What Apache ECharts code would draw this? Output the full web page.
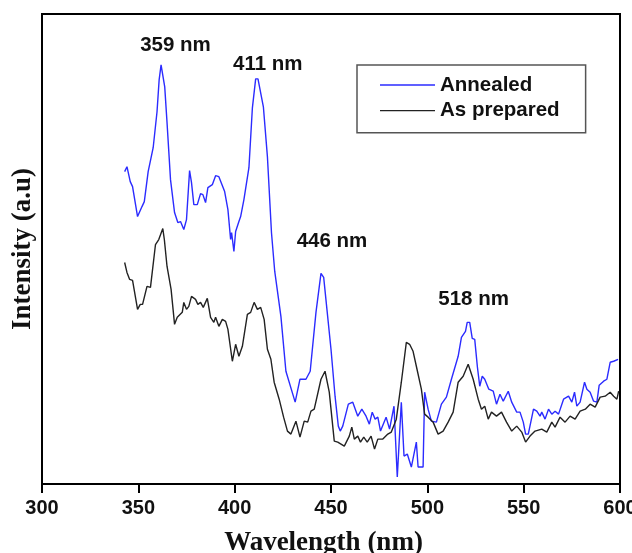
<!DOCTYPE html>
<html>
<head>
<meta charset="utf-8">
<script src="https://cdn.jsdelivr.net/npm/echarts@6/dist/echarts.min.js"></script>
<style>html,body{margin:0;padding:0;background:#fff}#c{width:632px;height:553px}</style>
</head>
<body>
<div id="c"></div>
<script>
// Wavelength (nm) and intensity (a.u.)
const annealedX = [342.9,344.1,345.8,347.0,349.6,351.9,353.1,355.1,357.7,359.7,360.8,361.8,363.7,364.9,366.7,368.8,370.5,371.9,373.6,375.0,376.6,377.6,378.8,380.6,382.3,383.5,384.9,386.1,388.4,390.1,391.8,394.8,396.5,397.9,398.4,399.6,400.5,402.2,403.1,404.8,407.4,409.2,410.9,412.1,414.9,417.0,419.1,420.8,424.0,426.6,431.4,433.9,437.0,439.2,442.2,444.8,446.2,450.0,452.1,453.8,454.8,456.1,459.0,461.3,463.9,466.0,468.2,469.9,471.4,472.9,474.3,475.7,478.6,480.4,482.7,484.4,486.5,487.9,489.6,491.7,494.3,495.2,497.8,498.6,500.4,502.1,504.7,507.3,509.9,512.5,516.0,517.7,519.8,520.7,522.0,523.3,524.6,526.0,527.2,528.5,529.8,531.9,534.2,535.9,537.7,539.4,542.0,543.8,546.4,548.1,549.8,551.0,552.4,555.1,556.8,558.5,559.4,561.1,562.9,564.6,566.3,568.1,570.7,573.3,575.0,576.4,577.6,579.3,581.6,582.8,584.5,586.3,588.0,589.2,591.5,593.2,594.9,596.7,599.0];
const annealedY = [313,318,303,298,268,278,283,313,337,373,405,420,398,362,305,272,262,263,255,265,314,302,280,280,291,290,282,297,300,309,308,293,275,245,252,233,253,263,268,285,317,377,406,406,378,328,252,213,168,113,82,105,105,113,172,211,207,135,88,58,53,58,80,82,68,75,68,60,72,65,67,53,67,55,78,7,82,28,30,17,42,17,17,92,75,63,62,80,87,105,128,147,153,162,162,146,145,117,98,108,105,95,93,80,90,83,93,82,72,72,62,50,50,75,73,68,72,65,75,70,73,70,85,88,82,92,78,82,102,95,92,83,82,99,103,105,122,123,125];
const preparedX = [342.9,344.1,345.5,347.0,349.6,351.0,352.2,354.5,356.3,358.9,360.6,362.7,363.5,364.9,367.0,368.8,370.2,372.8,373.6,375.0,376.2,377.6,379.7,380.9,382.3,383.7,385.8,387.5,389.2,390.1,391.8,393.6,395.3,396.5,398.8,400.5,402.2,404.0,406.6,408.3,410.1,411.8,413.5,415.3,417.0,418.8,420.5,423.1,425.4,427.4,429.2,431.8,433.9,436.1,437.9,439.6,441.3,444.8,446.9,449.1,451.7,453.5,454.3,456.9,459.5,460.8,462.1,463.9,465.3,467.0,468.8,470.8,472.6,474.3,476.9,479.5,481.3,483.9,486.5,489.1,490.8,492.6,494.3,496.9,498.6,500.4,503.0,505.6,508.2,510.8,513.4,516.0,518.6,521.2,523.8,526.4,528.1,529.8,531.6,533.3,535.9,538.5,541.1,543.8,546.4,549.0,551.0,553.3,555.9,559.4,562.0,564.6,566.3,568.9,571.5,574.1,576.7,579.3,582.0,584.5,587.1,589.7,592.3,594.9,596.7,598.4,599.3];
const preparedY = [222,212,205,204,175,180,180,198,197,240,245,256,245,218,195,160,167,172,182,175,178,188,185,180,182,177,186,167,162,167,158,165,163,155,123,140,128,138,170,172,182,175,177,165,135,125,102,85,67,53,50,63,47,63,62,73,75,105,113,92,43,42,42,38,48,57,45,48,42,47,42,48,35,45,45,50,52,65,102,142,140,133,118,95,70,67,62,50,53,62,72,102,108,120,105,85,75,78,65,72,68,72,62,53,58,52,42,48,53,55,52,62,57,67,62,68,65,73,75,80,77,87,88,92,88,85,93];
const seriesNames = ['Annealed', 'As prepared'];
const peakLabels = ['359 nm', '411 nm', '446 nm', '518 nm'];
const xTicks = [300, 350, 400, 450, 500, 550, 600];

function zip(xs, ys) { return xs.map((x, i) => [x, ys[i]]); }

const labelAnchors = [[369.3, 440], [417.2, 421], [450.5, 243], [524, 185]];
const seriesColors = ['#2b2bff', '#222222'];

const chart = echarts.init(document.getElementById('c'));
chart.setOption({
  animation: false,
  grid: { left: 42, right: 12, top: 14, bottom: 69, show: true, borderColor: '#000', borderWidth: 2, outerBoundsMode: 'none', containLabel: false },
  legend: {
    orient: 'vertical', left: 357, top: 65,
    padding: [9.5, 26, 11.5, 23], itemGap: 4.7, itemWidth: 55, itemHeight: 14,
    borderColor: '#555', borderWidth: 1.5,
    textStyle: { fontFamily: 'Liberation Sans, Arial', fontWeight: 'bold', fontSize: 20.5, color: '#111' },
    data: seriesNames.map((n, i) => ({ name: n, icon: 'path://M0,0 L55,0 L55,1.3 L0,1.3 Z', itemStyle: { color: seriesColors[i] } }))
  },
  xAxis: {
    type: 'value', min: xTicks[0], max: xTicks[xTicks.length - 1], interval: 50,
    axisLine: { show: true, lineStyle: { color: '#000', width: 2 } },
    axisTick: { show: true, length: 9, lineStyle: { color: '#000', width: 2 } },
    axisLabel: { fontFamily: 'Liberation Sans, Arial', fontWeight: 'bold', fontSize: 20, color: '#111', margin: 14 },
    splitLine: { show: false },
    name: 'Wavelength (nm)', nameLocation: 'middle', nameGap: 46,
    nameTextStyle: { fontFamily: 'Liberation Serif, Times New Roman', fontWeight: 'bold', fontSize: 27, color: '#111', padding: [0, 15, 0, 0] }
  },
  yAxis: {
    type: 'value', min: 0, max: 471,
    axisLine: { show: true, lineStyle: { color: '#000', width: 2 } },
    axisTick: { show: false }, axisLabel: { show: false }, splitLine: { show: false },
    name: 'Intensity (a.u)', nameLocation: 'middle', nameGap: 5, nameRotate: 90,
    nameTextStyle: { fontFamily: 'Liberation Serif, Times New Roman', fontWeight: 'bold', fontSize: 27, color: '#111' }
  },
  series: [
    {
      name: seriesNames[0], type: 'line', symbol: 'none', data: zip(annealedX, annealedY),
      lineStyle: { color: seriesColors[0], width: 1.4 }, itemStyle: { color: seriesColors[0] },
      markPoint: {
        symbol: 'circle', symbolSize: 0,
        label: { show: true, position: 'inside', fontFamily: 'Liberation Sans, Arial', fontWeight: 'bold', fontSize: 20.5, color: '#111', formatter: p => p.name },
        data: peakLabels.map((t, i) => ({ name: t, coord: labelAnchors[i] }))
      }
    },
    {
      name: seriesNames[1], type: 'line', symbol: 'none', data: zip(preparedX, preparedY),
      lineStyle: { color: seriesColors[1], width: 1.4 }, itemStyle: { color: seriesColors[1] }
    }
  ]
});
</script>
</body>
</html>
